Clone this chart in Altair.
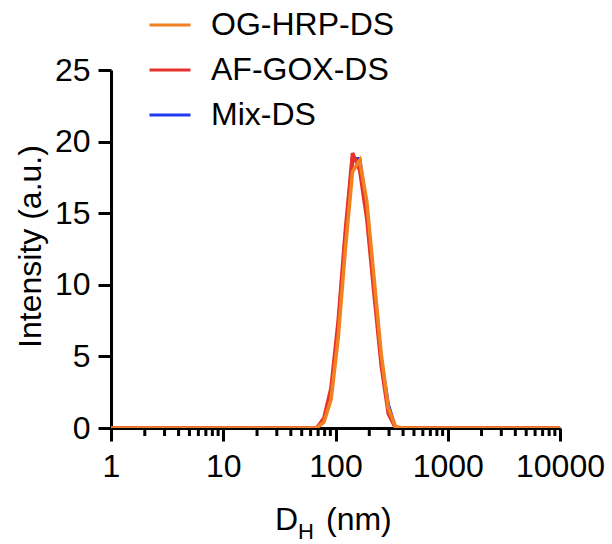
import altair as alt
import pandas as pd

# Hydrodynamic diameter bins (nm) and intensity (a.u.)
size_nm = [1.0, 58.77, 68.06, 78.82, 91.28, 105.7, 122.4, 141.8, 164.2, 190.1,
           220.2, 255.0, 295.3, 342.0, 396.1, 10000.0]
og_hrp = [0, 0, 0, 0.4, 2.0, 6.3, 12.5, 17.9, 18.7, 15.8, 10.5, 5.2, 1.4, 0.1, 0, 0]
af_gox = [0, 0, 0, 0.7, 2.8, 7.5, 13.8, 19.2, 18.0, 14.6, 9.4, 4.4, 1.0, 0, 0, 0]
mix_ds = [0, 0, 0, 0.5, 2.4, 7.0, 13.2, 18.8, 18.8, 15.2, 9.9, 4.8, 1.6, 0, 0, 0]

series_names = ["OG-HRP-DS", "AF-GOX-DS", "Mix-DS"]
series_colors = ["#F28220", "#E8312A", "#1F3BF2"]

major_ticks = [1, 10, 100, 1000, 10000]
minor_ticks = [m * d for d in [1, 10, 100, 1000] for m in range(2, 10)]
y_ticks = [0, 5, 10, 15, 20, 25]

rows = []
for name, vals in zip(series_names, [og_hrp, af_gox, mix_ds]):
    for s, v in zip(size_nm, vals):
        rows.append({"size": s, "intensity": v, "series": name})
df = pd.DataFrame(rows)
minor_df = pd.DataFrame({"tick": minor_ticks})

FONT = "Liberation Sans"
W, H = 449, 358

xscale = alt.Scale(type="log", domain=[1, 10000], nice=False)
yscale = alt.Scale(domain=[0, 25], nice=False)
cscale = alt.Scale(domain=series_names, range=series_colors)

xaxis = alt.Axis(values=major_ticks, format="d", title=None, labelFlush=False,
                 labelOverlap=False, tickSize=13, tickWidth=3, domainWidth=3,
                 domainColor="black", tickColor="black", labelFontSize=32,
                 labelFont=FONT, labelColor="black", labelPadding=10, grid=False)
yaxis = alt.Axis(values=y_ticks, title="Intensity (a.u.)", tickSize=13, tickWidth=3,
                 domainWidth=3, domainColor="black", tickColor="black",
                 labelFontSize=32, labelFont=FONT, labelColor="black",
                 labelPadding=8, grid=False, titleFontSize=32, titleFont=FONT,
                 titleFontWeight="normal", titleColor="black", titleX=-81,
                 titleY=176, titleAngle=-90, titleBaseline="middle",
                 titleAlign="center")
legend = alt.Legend(orient="none", legendX=37, legendY=-67, title=None,
                    symbolType="stroke", symbolSize=1681, symbolStrokeWidth=3,
                    labelFontSize=32, labelFont=FONT, labelColor="black",
                    labelLimit=0, rowPadding=7, labelOffset=19, padding=0)

base = alt.Chart(df)
layers = []
for name in ["Mix-DS", "AF-GOX-DS", "OG-HRP-DS"]:
    layers.append(
        base.transform_filter(alt.datum.series == name)
        .mark_line(strokeWidth=3.6, clip=True)
        .encode(
            x=alt.X("size:Q", scale=xscale, axis=xaxis),
            y=alt.Y("intensity:Q", scale=yscale, axis=yaxis),
            color=alt.Color("series:N", scale=cscale, legend=legend),
        )
    )

minor = alt.Chart(minor_df).mark_rule(color="black", strokeWidth=3).encode(
    x=alt.X("tick:Q", scale=xscale, axis=xaxis),
    y=alt.value(H),
    y2=alt.value(H + 8),
)

t_main = alt.Chart(pd.DataFrame({"t": ["D"]})).mark_text(
    font=FONT, fontSize=32, align="left", baseline="alphabetic", color="black"
).encode(text="t:N", x=alt.value(164), y=alt.value(460))
t_sub = alt.Chart(pd.DataFrame({"t": ["H"]})).mark_text(
    font=FONT, fontSize=22, align="left", baseline="alphabetic", color="black"
).encode(text="t:N", x=alt.value(187), y=alt.value(469))
t_unit = alt.Chart(pd.DataFrame({"t": ["(nm)"]})).mark_text(
    font=FONT, fontSize=32, align="left", baseline="alphabetic", color="black"
).encode(text="t:N", x=alt.value(215), y=alt.value(460))

chart = alt.layer(minor, *layers, t_main, t_sub, t_unit).properties(
    width=W, height=H,
    autosize=alt.AutoSizeParams(type="none"),
    padding={"left": 111, "top": 70, "right": 52, "bottom": 116},
    background="white",
).configure_view(stroke=None)

chart.save("out.html", embed_options={"renderer": "svg", "actions": False})
